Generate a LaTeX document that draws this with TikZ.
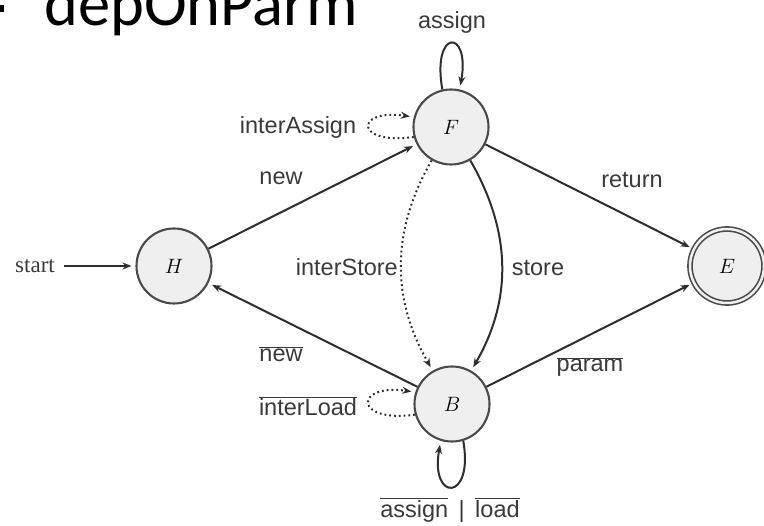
\documentclass[tikz,border=0pt]{standalone}
\usepackage{fontspec}
\setmainfont{Liberation Sans}
\newfontfamily\titlefont{Carlito}
\newfontfamily\startfont{Liberation Serif}
\usetikzlibrary{arrows.meta}
\definecolor{ln}{HTML}{2E2E2E}
\definecolor{stborder}{HTML}{4A4A4A}
\definecolor{stfill}{HTML}{EFEFEF}
\definecolor{lbltext}{HTML}{3A3A3A}
\newcommand\ovl[1]{$\overline{\mbox{#1}}$}
\begin{document}
\begin{tikzpicture}[x=1pt,y=1pt,
  state/.style={circle, draw=stborder, line width=2.1pt, fill=stfill,
    minimum size=75pt, inner sep=0pt, font=\fontsize{20.5}{24}\selectfont},
  accepting/.style={double=stfill, double distance=2.5pt, line width=1.6pt,
    minimum size=74pt},
  edge/.style={draw=ln, line width=2pt, shorten >=4pt,
    -{Stealth[length=9pt,width=7pt]}},
  dotedge/.style={edge, dash pattern=on 1.8pt off 3pt},
  lbl/.style={font=\fontsize{23.5}{28}\selectfont, text=lbltext, inner sep=0pt},
]
\useasboundingbox (0,0) rectangle (764,-526);
\fill[black] (0,-5) rectangle (4,-12);
\node[anchor=base west, inner sep=0pt, font=\titlefont\fontsize{64.5}{72}\selectfont] (title) at (44,-26) {depOnParm};

\node[state] (H) at (174,-266) {$H$};
\node[state] (F) at (451,-127) {$F$};
\node[state] (B) at (452,-404) {$B$};
\node[state, accepting] (E) at (727,-266) {$E$};

\node[font=\startfont\fontsize{23}{26}\selectfont, text=lbltext, inner sep=0pt] (start) at (35,-266) {start};

\draw[edge, shorten <=9pt] (start) -- (H);
\draw[edge] (H) -- (F);
\draw[edge] (B) -- (H);
\draw[edge] (F) -- (E);
\draw[edge] (B) -- (E);
\draw[edge] (F) to[out=-60, in=60] (B);
\draw[dotedge] (F) to[out=-120, in=120] (B);
\draw[edge] (F.103) .. controls +(100:62) and +(80:62) .. (F.77);
\draw[edge] (B.-73) .. controls +(-80:62) and +(-100:62) .. (B.-107);
\draw[dotedge] (F.195) .. controls +(188:60) and +(172:60) .. (F.165);
\draw[dotedge] (B.196) .. controls +(188:62) and +(172:62) .. (B.162);

\node[lbl] (lassign) at (452,-22) {assign};
\node[lbl] (linterassign) at (298,-127) {interAssign};
\node[lbl] (lnew) at (281,-178) {new};
\node[lbl] (lreturn) at (632,-180) {return};
\node[lbl, anchor=east] (linterstore) at (398,-267) {interStore};
\node[lbl] (lstore) at (538,-268) {store};
\node[lbl] (lnewbar) at (281,-354) {\ovl{new}};
\node[lbl] (lparam) at (590,-367) {\ovl{param}};
\node[lbl] (linterload) at (308,-406) {\ovl{interLoad}};
\node[lbl] (lassignload) at (450,-510) {\ovl{assign} \,|\, \ovl{load}};
\end{tikzpicture}
\end{document}
